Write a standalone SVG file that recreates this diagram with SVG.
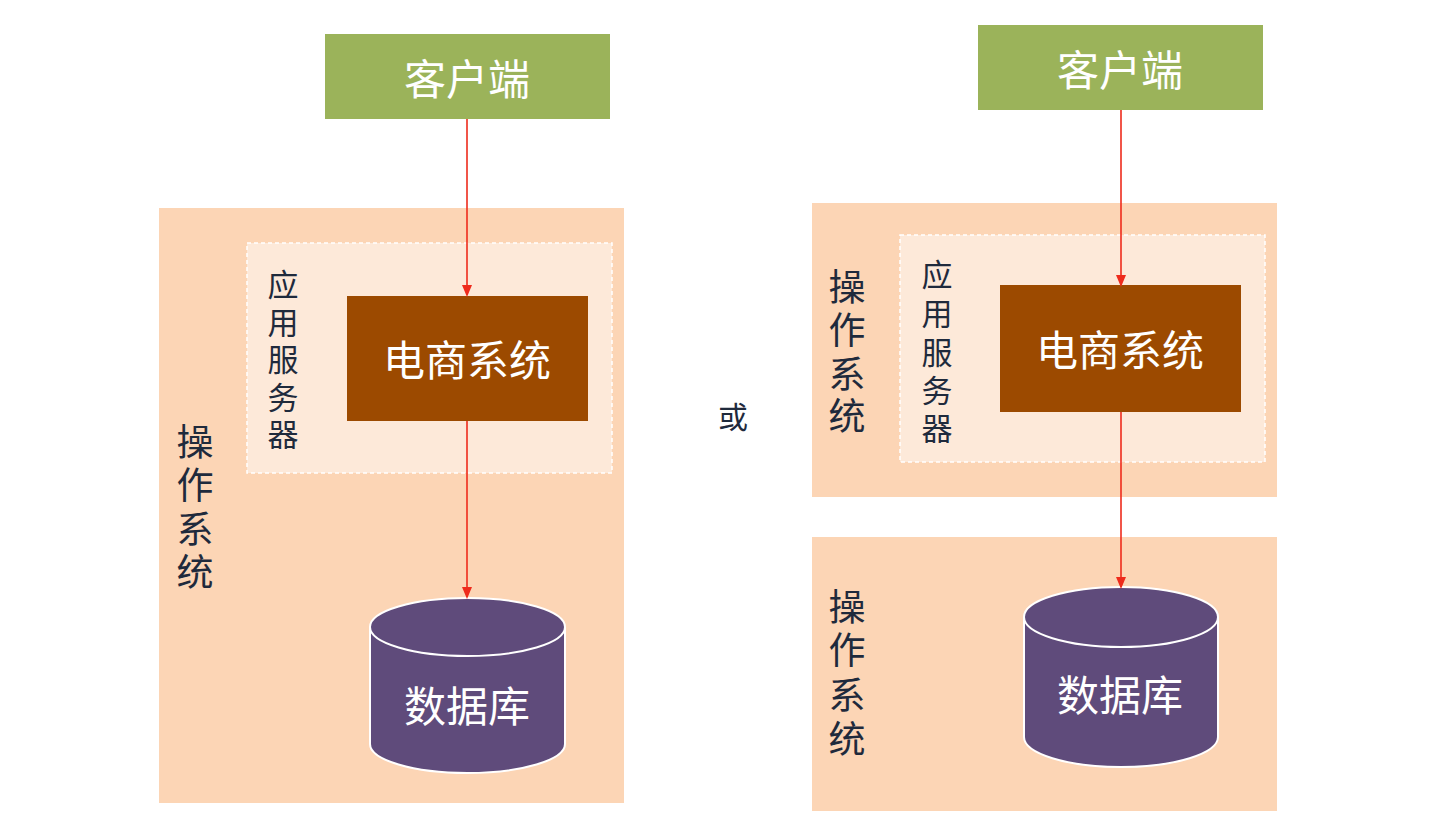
<svg xmlns="http://www.w3.org/2000/svg" width="1446" height="840" viewBox="0 0 1446 840">
  <style>
    .os { fill: #fcd5b5; }
    .app { fill: #fde9d9; stroke: #ffffff; stroke-width: 1.5; stroke-dasharray: 4 3; }
    .client { fill: #9bb35a; }
    .sys { fill: #9c4a00; }
    .db { fill: #5f4b7b; stroke: #ffffff; stroke-width: 2; }
    .wt { font-family: "Noto Sans CJK SC", "Noto Sans", sans-serif; fill: #ffffff; font-size: 42px; text-anchor: middle; dominant-baseline: central; }
    .lbl { font-family: "Noto Sans CJK SC", "Noto Sans", sans-serif; fill: #1f2a3c; text-anchor: middle; dominant-baseline: central; }
    .big { font-size: 37px; }
    .mid { font-size: 31px; }
    .edge { stroke: #ee2b1c; stroke-width: 1.6; fill: none; marker-end: url(#arr); }
  </style>
  <defs>
    <marker id="arr" markerWidth="12" markerHeight="12" refX="10" refY="6" orient="auto" markerUnits="userSpaceOnUse">
      <path d="M0,1 L12,6 L0,11 Z" fill="#ee2b1c"/>
    </marker>
  </defs>
  <rect width="1446" height="840" fill="#ffffff"/>

  <!-- Left deployment: one OS hosting app server and database -->
  <g id="left-os">
    <rect class="os" x="159" y="208" width="465" height="595"/>
    <text class="lbl big"><tspan x="195" y="440">操</tspan><tspan x="195" y="483">作</tspan><tspan x="195" y="527">系</tspan><tspan x="195" y="570">统</tspan></text>
  </g>
  <g id="left-appserver">
    <rect class="app" x="247" y="243" width="365" height="230"/>
    <text class="lbl mid"><tspan x="283" y="282">应</tspan><tspan x="283" y="320">用</tspan><tspan x="283" y="357">服</tspan><tspan x="283" y="395">务</tspan><tspan x="283" y="432">器</tspan></text>
  </g>
  <g id="left-client">
    <rect class="client" x="325" y="34" width="285" height="85"/>
    <text class="wt" x="467" y="76">客户端</text>
  </g>
  <g id="left-shop">
    <rect class="sys" x="347" y="296" width="241" height="125"/>
    <text class="wt" x="467" y="357">电商系统</text>
  </g>
  <g id="left-db">
    <path class="db" d="M370,627 L370,744 A97.5,29 0 0 0 565,744 L565,627"/>
    <ellipse class="db" cx="467.5" cy="627" rx="97.5" ry="29"/>
    <text class="wt" x="467" y="703">数据库</text>
  </g>

  <g id="or-label">
    <text class="lbl" x="733" y="415" font-size="30">或</text>
  </g>

  <!-- Right deployment: app server and database on separate OS hosts -->
  <g id="right-os-app">
    <rect class="os" x="812" y="203" width="465" height="294"/>
    <text class="lbl big"><tspan x="847" y="285">操</tspan><tspan x="847" y="328">作</tspan><tspan x="847" y="372">系</tspan><tspan x="847" y="414">统</tspan></text>
  </g>
  <g id="right-appserver">
    <rect class="app" x="900" y="235" width="365" height="227"/>
    <text class="lbl mid"><tspan x="937" y="272">应</tspan><tspan x="937" y="311">用</tspan><tspan x="937" y="350">服</tspan><tspan x="937" y="388">务</tspan><tspan x="937" y="426">器</tspan></text>
  </g>
  <g id="right-os-db">
    <rect class="os" x="812" y="537" width="465" height="274"/>
    <text class="lbl big"><tspan x="847" y="605">操</tspan><tspan x="847" y="648">作</tspan><tspan x="847" y="693">系</tspan><tspan x="847" y="737">统</tspan></text>
  </g>
  <g id="right-client">
    <rect class="client" x="978" y="25" width="285" height="85"/>
    <text class="wt" x="1120" y="67">客户端</text>
  </g>
  <g id="right-shop">
    <rect class="sys" x="1000" y="285" width="241" height="127"/>
    <text class="wt" x="1120" y="347">电商系统</text>
  </g>
  <g id="right-db">
    <path class="db" d="M1024,617 L1024,737 A97,30 0 0 0 1218,737 L1218,617"/>
    <ellipse class="db" cx="1121" cy="617" rx="97" ry="30"/>
    <text class="wt" x="1120" y="692">数据库</text>
  </g>

  <g id="connectors">
    <line class="edge" x1="467" y1="119" x2="467" y2="295"/>
    <line class="edge" x1="467" y1="421" x2="467" y2="597"/>
    <line class="edge" x1="1121" y1="110" x2="1121" y2="285"/>
    <line class="edge" x1="1121" y1="412" x2="1121" y2="587"/>
  </g>
</svg>
